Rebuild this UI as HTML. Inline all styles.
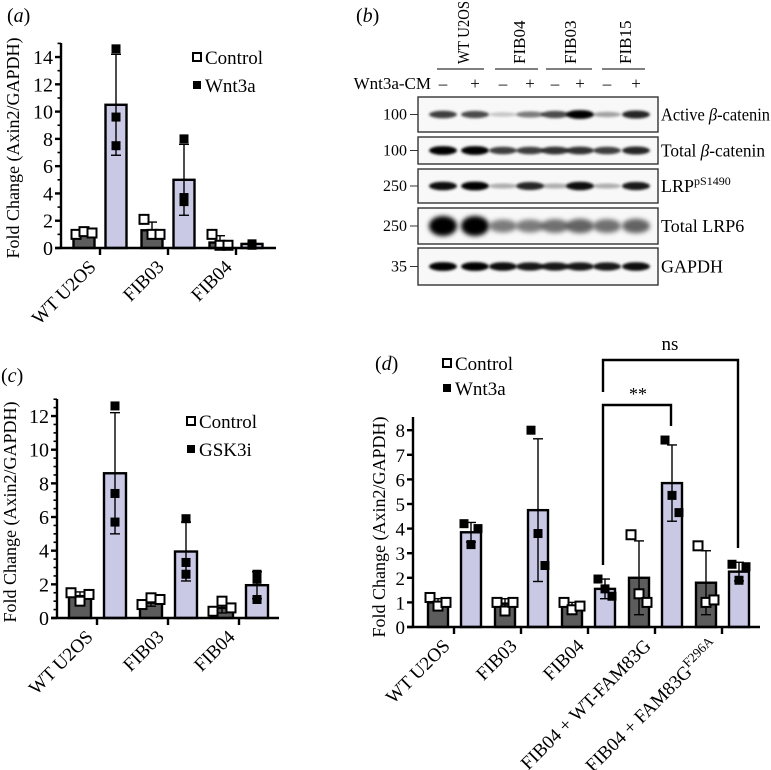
<!DOCTYPE html>
<html><head><meta charset="utf-8">
<style>
html,body{margin:0;padding:0;background:#fff;}
svg{display:block;font-family:"Liberation Serif","DejaVu Serif",serif;}
</style></head>
<body>
<svg id="fig" width="771" height="770" viewBox="0 0 771 770" xmlns="http://www.w3.org/2000/svg">
<defs>
<filter id="blur1" x="-20%" y="-100%" width="140%" height="300%"><feGaussianBlur stdDeviation="1.2"/></filter>
<filter id="blur2" x="-20%" y="-100%" width="140%" height="300%"><feGaussianBlur stdDeviation="2.5"/></filter>
</defs>
<g id="pa"></g>
<g id="pb"></g>
<g id="pc"></g>
<g id="pd"></g>
</svg>
<script>
// ---- Panel a data ----
const aCats = ["WT U2OS","FIB03","FIB04"];
const aCtrl = [1.1, 1.3, 0.4];
const aTrt = [10.5, 5.0, 0.3];
const aCtrlSd = [0.2, 0.6, 0.5];
const aTrtSd = [3.7, 2.6, 0.05];
const aCtrlPts = [[1.0,1.2,1.1],[2.1,1.0,1.0],[1.0,0.2,0.2]];
const aTrtPts = [[14.6,9.6,7.5],[8.0,3.4,3.7],[0.3,0.3,0.2]];
const aTicks = [0,2,4,6,8,10,12,14];
// ---- Panel c data ----
const cCats = ["WT U2OS","FIB03","FIB04"];
const cCtrl = [1.3, 0.9, 0.6];
const cTrt = [8.6, 3.95, 1.95];
const cCtrlSd = [0.25, 0.2, 0.3];
const cTrtSd = [3.6, 1.75, 0.8];
const cCtrlPts = [[1.5,1.0,1.4],[0.8,1.2,1.1],[0.4,1.0,0.6]];
const cTrtPts = [[12.6,7.4,5.7],[5.9,3.3,2.6],[2.6,1.1,2.3]];
const cTicks = [0,2,4,6,8,10,12];
// ---- Panel d data ----
const dCats = ["WT U2OS","FIB03","FIB04","FIB04 + WT-FAM83G","FIB04 + FAM83G"];
const dCtrl = [1.0, 0.95, 0.85, 2.0, 1.8];
const dTrt = [3.85, 4.75, 1.55, 5.85, 2.25];
const dCtrlSd = [0.15, 0.2, 0.15, 1.5, 1.3];
const dTrtSd = [0.4, 2.9, 0.4, 1.55, 0.38];
const dCtrlPts = [[1.2,0.85,1.0],[1.0,0.65,1.0],[1.0,0.7,0.85],[3.75,1.35,1.0],[3.3,1.0,1.1]];
const dTrtPts = [[4.2,3.35,4.0],[8.0,3.8,2.5],[1.95,1.55,1.25],[7.6,5.35,4.65],[2.55,1.9,2.45]];
const dTicks = [0,1,2,3,4,5,6,7,8];

const NS="http://www.w3.org/2000/svg";
function mk(parent, tag, attrs, text){
  const e=document.createElementNS(NS,tag);
  for(const k in attrs) e.setAttribute(k,attrs[k]);
  if(text!==undefined) e.textContent=text;
  parent.appendChild(e); return e;
}
const MS=9;

function barChart(g, o, cats, ctrl, trt, ctrlSd, trtSd, ctrlPts, trtPts, ticks){
  const ys=v=>o.y0 - v*o.k;
  cats.forEach((c,i)=>{
    const tx=o.x0 + i*o.step;
    [[ctrl,ctrlSd,ctrlPts,o.offC,"#5c5c5c",false,"control"],[trt,trtSd,trtPts,o.offT,"#c9c9e6",true,o.trtName]].forEach(s=>{
      const [vals,sds,pts,off,fill,filled,nm]=s;
      const cx=tx+off, v=vals[i];
      const r=mk(g,"rect",{x:cx-o.bw/2,y:ys(v),width:o.bw,height:o.y0-ys(v),fill:fill,stroke:"#000","stroke-width":2.4});
      
      
      const lo=ys(Math.max(0,v-sds[i])), hi=ys(v+sds[i]);
      const eb=mk(g,"g",{stroke:"#000","stroke-width":1.4});
      
      
      mk(eb,"line",{x1:cx,x2:cx,y1:lo,y2:hi});
      mk(eb,"line",{x1:cx-5,x2:cx+5,y1:hi,y2:hi});
      mk(eb,"line",{x1:cx-5,x2:cx+5,y1:lo,y2:lo});
      const jit = filled ? o.jitT : o.jitC;
      pts[i].forEach((p,j)=>{
        const px=cx+jit[j];
        const m=mk(g,"rect",{x:px-MS/2,y:ys(p)-MS/2,width:MS,height:MS,fill:filled?"#000":"#fff",stroke:"#000","stroke-width":filled?0:2});
        
        
      });
    });
    mk(g,"line",{x1:tx,x2:tx,y1:o.y0,y2:o.y0+7,stroke:"#000","stroke-width":2.4});
    const lab=mk(g,"text",{x:tx-3,y:o.y0+20,"text-anchor":"end","font-size":o.xfs,transform:`rotate(-45 ${tx-3} ${o.y0+20})`},c);
    if(o.sup && i===cats.length-1){ mk(lab,"tspan",{"baseline-shift":"super","font-size":o.xfs*0.7},o.sup); }
    
    
  });
  const ax=mk(g,"g",{stroke:"#000","stroke-width":2.4});
  
  
  mk(ax,"line",{x1:o.ax,x2:o.ax,y1:o.y0+1,y2:o.ytop});
  mk(ax,"line",{x1:o.ax-6,x2:o.xend,y1:o.y0,y2:o.y0});
  ticks.forEach(t=>{
    mk(ax,"line",{x1:o.ax-6,x2:o.ax,y1:ys(t),y2:ys(t)});
    const tl=mk(g,"text",{x:o.ax-8,y:ys(t)+7,"text-anchor":"end","font-size":o.yfs},String(t));
    
    
  });
  if(o.minor){
    const top=ticks[ticks.length-1]+o.minor*o.extra;
    for(let v=0; v<=top+1e-9; v+=o.minor){
      mk(ax,"line",{x1:o.ax-3.5,x2:o.ax,y1:ys(v),y2:ys(v),"stroke-width":1.6});
    }
  }
  const yt=mk(g,"text",{x:o.ylx,y:o.yly,"text-anchor":"middle","font-size":o.ylfs,transform:`rotate(-90 ${o.ylx} ${o.yly})`},"Fold Change (Axin2/GAPDH)");
  
  
  [[o.legY1,false,"Control"],[o.legY2,true,o.trtLabel]].forEach(L=>{
    const lg=mk(g,"g",{});
    
    
    mk(lg,"rect",{x:o.legX-4,y:L[0]-4,width:8,height:8,fill:L[1]?"#000":"#fff",stroke:"#000","stroke-width":L[1]?0:2});
    mk(lg,"text",{x:o.legX+8,y:L[0]+7,"font-size":o.legfs},L[2]);
  });
  const pl=mk(g,"text",{x:o.plx,y:o.ply,"font-size":20},"(");
  mk(pl,"tspan",{"font-style":"italic"},o.letter); mk(pl,"tspan",{},")");
  
  
}

barChart(document.getElementById("pa"),
 {y0:248,k:13.64,x0:100,step:68,offC:-16,offT:16,bw:21,ax:61,xend:276,ytop:43,minor:1,extra:1,
  jitC:[-8,0,8],jitT:[0,0,0],xfs:19,yfs:20,ylx:19,yly:148,ylfs:18,legX:197,legY1:57,legY2:85,legfs:19,
  plx:7,ply:22,letter:"a",trtName:"wnt3a",trtLabel:"Wnt3a"},
 aCats,aCtrl,aTrt,aCtrlSd,aTrtSd,aCtrlPts,aTrtPts,aTicks);

barChart(document.getElementById("pc"),
 {y0:618,k:16.83,x0:97,step:71,offC:-17,offT:18,bw:22,ax:57,xend:279,ytop:399,minor:0.5,extra:2,
  jitC:[-9,0,9],jitT:[0,0,0],xfs:19,yfs:20,ylx:16,yly:512,ylfs:18,legX:191,legY1:421,legY2:449,legfs:19,
  plx:1,ply:382,letter:"c",trtName:"gsk3i",trtLabel:"GSK3i"},
 cCats,cCtrl,cTrt,cCtrlSd,cTrtSd,cCtrlPts,cTrtPts,cTicks);

barChart(document.getElementById("pd"),
 {y0:627,k:24.6,x0:454,step:67,offC:-16,offT:17,bw:20,ax:413,xend:760,ytop:417,minor:0,extra:0,
  jitC:[-8,0,8],jitT:[-7,0,7],xfs:19,yfs:19,ylx:385,yly:527,ylfs:18,legX:447,legY1:363,legY2:388,legfs:19,
  plx:375,ply:370,letter:"d",trtName:"wnt3a",trtLabel:"Wnt3a",sup:"F296A"},
 dCats,dCtrl,dTrt,dCtrlSd,dTrtSd,dCtrlPts,dTrtPts,dTicks);

(function(){
  const g=document.getElementById("pd");
  const br=mk(g,"g",{fill:"none",stroke:"#000","stroke-width":2.4});
  
  
  mk(br,"polyline",{points:"603,392 603,360 738,360 738,548"});
  mk(br,"polyline",{points:"603,565 603,405 671,405 671,426"});
  const t1=mk(g,"text",{x:638,y:400,"text-anchor":"middle","font-size":18},"**");
  
  
  const t2=mk(g,"text",{x:670,y:350,"text-anchor":"middle","font-size":19},"ns");
  
  
})();

// ---- Panel b: western blot ----
const bGroups = ["WT U2OS","FIB04","FIB03","FIB15"];
const bRows = ["Active β-catenin","Total β-catenin","LRP","Total LRP6","GAPDH"];
const bMw = ["100","100","250","250","35"];
const bIntensity = [
  [0.75,0.7,0.2,0.5,0.7,1.0,0.35,0.85],
  [1.0,1.0,0.75,0.75,0.8,0.8,0.75,0.85],
  [0.95,1.0,0.3,0.85,0.3,0.95,0.3,0.9],
  [1.0,1.0,0.5,0.5,0.55,0.6,0.55,0.6],
  [1.0,1.0,0.95,0.9,0.9,0.9,0.9,0.95]
];
(function(){
  const g=document.getElementById("pb");
  const lanes=[443,475,503,530,555,580,607,636];
  const boxes=[[97,132],[137,164],[169,203],[208,244],[248,285]];
  const gx=[[437,484,463],[495,538,519],[546,592,570],[602,645,625]];
  const pl=mk(g,"text",{x:356,y:22,"font-size":20},"(");
  mk(pl,"tspan",{"font-style":"italic"},"b"); mk(pl,"tspan",{},")");
  
  
  bGroups.forEach((n,i)=>{
    const attrs={x:gx[i][2]+6,y:64,"font-size":17,transform:`rotate(-90 ${gx[i][2]+6} 64)`};
    if(i===0){attrs.textLength=63; attrs.lengthAdjust="spacingAndGlyphs";}
    const t=mk(g,"text",attrs,n);
    
    
    mk(g,"line",{x1:gx[i][0],x2:gx[i][1],y1:69,y2:69,stroke:"#000","stroke-width":1});
  });
  const w=mk(g,"text",{x:431,y:89,"text-anchor":"end","font-size":17},"Wnt3a-CM");
  
  
  lanes.forEach((x,i)=>{
    const s=mk(g,"text",{x:x,y:89,"text-anchor":"middle","font-size":17},i%2?"+":"–");
    
    
  });
  boxes.forEach((b,r)=>{
    const bg=mk(g,"g",{});
    
    
    mk(bg,"rect",{x:418,y:b[0],width:240,height:b[1]-b[0],fill:"#f8f8f8",stroke:"#333","stroke-width":1.4});
    const cy=(b[0]+b[1])/2;
    lanes.forEach((x,i)=>{
      const a=bIntensity[r][i];
      const h = r===3 ? 3+a*7 : 1.8+a*2.6;
      mk(bg,"ellipse",{cx:x,cy:cy,rx:14,ry:h,fill:"#000","fill-opacity":Math.min(1,a),filter:r===3?"url(#blur2)":"url(#blur1)"});
    });
    mk(bg,"text",{x:407,y:cy+5,"font-size":16,"text-anchor":"end"},bMw[r]);
    mk(bg,"line",{x1:410,x2:418,y1:cy,y2:cy,stroke:"#333","stroke-width":1});
    const la={x:661,y:cy+6,"font-size":18};
    if(r<2){la.textLength=r===0?109:104; la.lengthAdjust="spacingAndGlyphs";}
    const lbl=mk(bg,"text",la,"");
    if(r<2){
      const parts=bRows[r].split("β");
      mk(lbl,"tspan",{},parts[0]); mk(lbl,"tspan",{"font-style":"italic"},"β"); mk(lbl,"tspan",{},parts[1]);
    } else {
      lbl.textContent=bRows[r];
    }
    if(r===2) mk(lbl,"tspan",{"baseline-shift":"super","font-size":12},"pS1490");
  });
})();
</script>
</body></html>
